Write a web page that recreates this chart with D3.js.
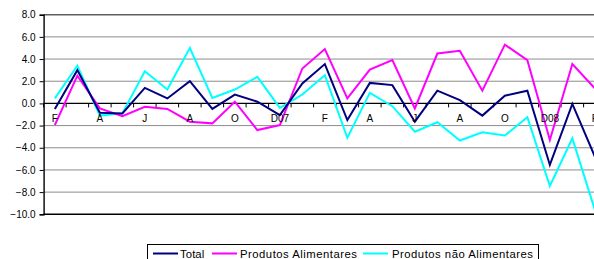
<!DOCTYPE html>
<html>
<head>
<script src="https://d3js.org/d3.v7.min.js"></script>
<style>
body { margin: 0; background: #fff; }
svg { display: block; font-family: "Liberation Sans", Arial, sans-serif; }
</style>
</head>
<body>
<svg id="chart" width="594" height="259"></svg>
<script>
// monthly series, Feb 2007 .. Feb 2009
var months = ["F","M","A","M","J","J","A","S","O","N","D07","J","F","M","A","M","J","J","A","S","O","N","D08","J","F"];
var tickLabels = ["F","A","J","A","O","D07","F","A","J","A","O","D08","F"];
var total   = [-0.5, 3.0, -0.85, -0.9, 1.4, 0.45, 2.0, -0.5, 0.8, 0.15, -1.05, 1.8, 3.55, -1.5, 1.85, 1.65, -1.65, 1.15, 0.3, -1.1, 0.7, 1.15, -5.55, -0.05, -4.8];
var food    = [-1.95, 2.5, -0.45, -1.15, -0.3, -0.5, -1.65, -1.8, 0.15, -2.4, -1.95, 3.15, 4.9, 0.45, 3.05, 3.9, -0.45, 4.5, 4.75, 1.15, 5.3, 3.9, -3.3, 3.55, 1.35];
var nonFood = [0.45, 3.4, -1.1, -0.9, 2.9, 1.25, 5.0, 0.5, 1.25, 2.4, -0.4, 0.8, 2.55, -3.1, 0.95, -0.25, -2.55, -1.7, -3.35, -2.6, -2.9, -1.25, -7.45, -3.15, -9.6];
var yTicks = [-10, -8, -6, -4, -2, 0, 2, 4, 6, 8];

var series = [
  {name: "Total", values: total, color: "#000080"},
  {name: "Produtos Alimentares", values: food, color: "#ff00ff"},
  {name: "Produtos não Alimentares", values: nonFood, color: "#00ffff"}
];

var svg = d3.select("#chart");
var plotLeft = 43.6, plotTop = 14.7, plotBottom = 214.3;

// band scale so the axis sits between categories, like excel does it
var x = d3.scaleBand()
  .domain(d3.range(months.length))
  .range([plotLeft, plotLeft + 22.5 * months.length]);
var y = d3.scaleLinear().domain([-10, 8]).range([plotBottom, plotTop]);

// gridlines
svg.append("g").selectAll("line")
  .data(yTicks.filter(function(d) { return d != 0 && d != -10 && d != 8; }))
  .enter().append("line")
    .attr("x1", plotLeft).attr("x2", 594)
    .attr("y1", function(d) { return y(d); }).attr("y2", function(d) { return y(d); })
    .attr("stroke", "#8c8c8c").attr("stroke-width", 1);

// top border
svg.append("line")
  .attr("x1", plotLeft).attr("x2", 594).attr("y1", y(8)).attr("y2", y(8))
  .attr("stroke", "#606060").attr("stroke-width", 1.6);
// bottom border
svg.append("line")
  .attr("x1", plotLeft).attr("x2", 594).attr("y1", y(-10)).attr("y2", y(-10))
  .attr("stroke", "#000").attr("stroke-width", 1.4);

// y axis
var yAxis = svg.append("g")
  .attr("transform", "translate(" + plotLeft + ",0)")
  .call(d3.axisLeft(y).tickValues(yTicks).tickFormat(d3.format(".1f")).tickSize(4).tickPadding(4));
yAxis.select(".domain").attr("stroke", "#000").attr("stroke-width", 1.4);
yAxis.selectAll("text").attr("font-size", 10).attr("fill", "#000").attr("font-family", "Liberation Sans, Arial, sans-serif");

// zero line with category ticks
var zero = svg.append("g").attr("transform", "translate(0," + y(0) + ")");
zero.append("line").attr("x1", plotLeft).attr("x2", 594).attr("stroke", "#000").attr("stroke-width", 1.2);
zero.selectAll(".tk")
  .data(d3.range(months.length + 1))
  .enter().append("line")
    .attr("x1", function(i) { return plotLeft + x.step() * i; })
    .attr("x2", function(i) { return plotLeft + x.step() * i; })
    .attr("y1", 0).attr("y2", 4)
    .attr("stroke", "#000");

// lines
var line = d3.line()
  .x(function(d, i) { return x(i) + x.bandwidth() / 2; })
  .y(function(d) { return y(d); });

svg.selectAll(".series")
  .data(series.slice().reverse())
  .enter().append("path")
    .attr("d", function(s) { return line(s.values); })
    .attr("fill", "none")
    .attr("stroke", function(s) { return s.color; })
    .attr("stroke-width", 2)
    .attr("stroke-linejoin", "miter");

// category labels, every second month
svg.append("g").selectAll("text")
  .data(tickLabels)
  .enter().append("text")
    .attr("x", function(d, i) { return x(i * 2) + x.bandwidth() / 2; })
    .attr("y", 122)
    .attr("text-anchor", "middle")
    .attr("font-size", 10)
    .text(function(d) { return d; });

// legend
var lg = svg.append("g");
lg.append("rect")
  .attr("x", 147.5).attr("y", 244.5).attr("width", 391).attr("height", 20)
  .attr("fill", "#fff").attr("stroke", "#000");
var legendPos = [{lx: 153, tx: 180}, {lx: 212, tx: 240}, {lx: 363, tx: 392}];
lg.selectAll("g")
  .data(series)
  .enter().append("g")
  .each(function(s, i) {
    var g = d3.select(this);
    g.append("line")
      .attr("x1", legendPos[i].lx).attr("x2", legendPos[i].lx + 25)
      .attr("y1", 253.5).attr("y2", 253.5)
      .attr("stroke", s.color).attr("stroke-width", 2);
    g.append("text")
      .attr("x", legendPos[i].tx).attr("y", 257.5)
      .attr("font-size", 11.3)
      .attr("letter-spacing", i == 0 ? 0.1 : 0.5)
      .text(s.name);
  });
</script>
</body>
</html>
